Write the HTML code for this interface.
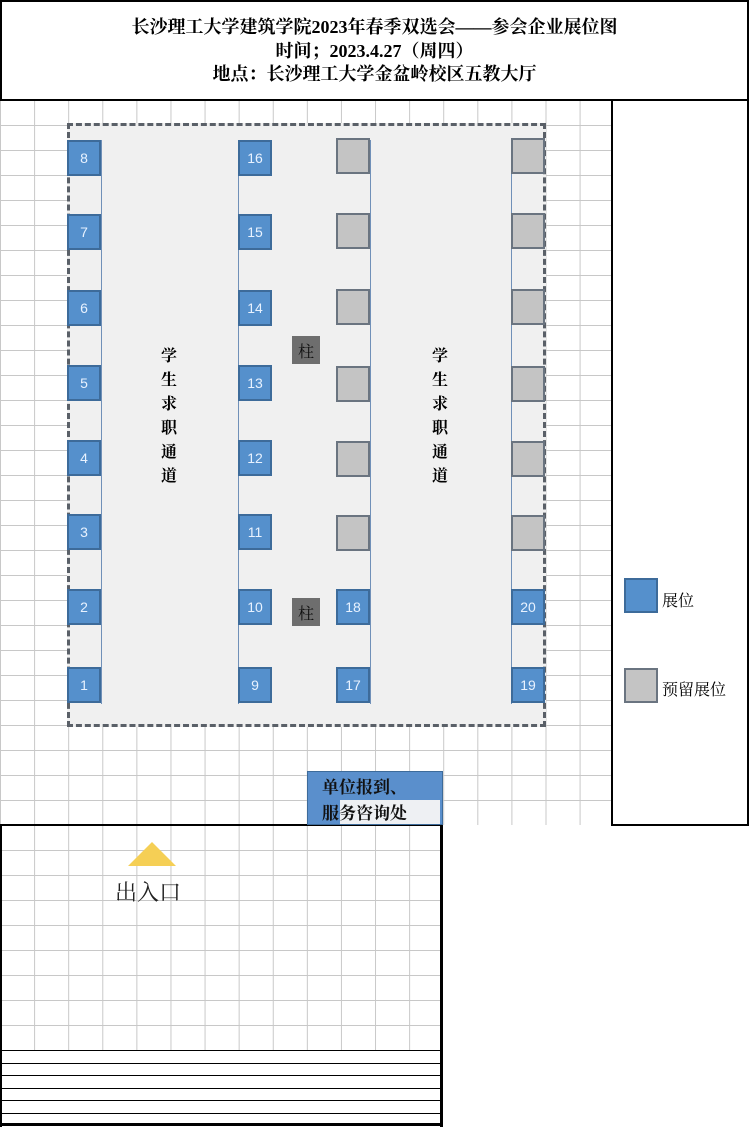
<!DOCTYPE html>
<html><head><meta charset="utf-8"><style>
body{margin:0;width:750px;height:1127px;position:relative;overflow:hidden;background:#fff;font-family:"Liberation Serif","Noto Serif CJK SC",serif}
.a{position:absolute;box-sizing:border-box}
.grid{background-image:linear-gradient(to right,#c8c8c8 1px,transparent 1px),linear-gradient(to bottom,#c8c8c8 1px,transparent 1px);background-size:34.1px 25px;background-position:0 0}
.b{position:absolute;box-sizing:border-box;width:34px;height:36px;background:#5590cc;border:2px solid #3d6b9a;color:#e8f2ff;font-family:"Liberation Sans",sans-serif;font-size:14px;display:flex;align-items:center;justify-content:center}
.g{position:absolute;box-sizing:border-box;width:34px;height:36px;background:#c4c4c4;border:2px solid #6a7480}
.p{position:absolute;width:28px;height:28px;background:#6e6e6e;color:#111;font-size:16px;display:flex;align-items:center;justify-content:center}
.v{position:absolute;width:1px;background:#7090b8}
.t{position:absolute;font-size:16px;font-weight:bold;line-height:24px;width:20px;text-align:center;font-family:"Noto Serif CJK SC",serif}
</style></head><body>
<div class="a grid" style="left:0;top:100px;width:611px;height:725px;background-position:0 0"></div>
<div class="a grid" style="left:0;top:825px;width:442px;height:225px"></div>
<div class="a" style="left:0;top:0;width:749px;height:101px;border:2px solid #000;text-align:center;font-weight:bold;font-size:18px;line-height:23.5px;padding-top:14px;font-family:'Liberation Serif','Noto Serif CJK SC',serif">长沙理工大学建筑学院2023年春季双选会——参会企业展位图<br>时间；2023.4.27（周四）<br>地点：长沙理工大学金盆岭校区五教大厅</div>
<div class="a" style="left:611px;top:99px;width:138px;height:727px;border:2px solid #000;background:#fff"></div>
<div class="a" style="left:0;top:824px;width:443px;height:2px;background:#000"></div>
<div class="a" style="left:0;top:824px;width:2px;height:303px;background:#000"></div>
<div class="a" style="left:440px;top:824px;width:3px;height:303px;background:#000"></div>
<div class="a" style="left:0;top:1123px;width:443px;height:3px;background:#000"></div>
<div class="a" style="left:0;top:1050px;width:442px;height:1px;background:#000"></div>
<div class="a" style="left:0;top:1063px;width:442px;height:1px;background:#000"></div>
<div class="a" style="left:0;top:1075px;width:442px;height:1px;background:#000"></div>
<div class="a" style="left:0;top:1088px;width:442px;height:1px;background:#000"></div>
<div class="a" style="left:0;top:1100px;width:442px;height:1px;background:#000"></div>
<div class="a" style="left:0;top:1113px;width:442px;height:1px;background:#000"></div>
<div class="a" style="left:67px;top:123px;width:479px;height:604px;background:#f0f0f0;border:3px dashed #5a6068"></div>
<div class="v" style="left:101px;top:140px;height:564px"></div>
<div class="v" style="left:238px;top:140px;height:564px"></div>
<div class="v" style="left:370px;top:140px;height:564px"></div>
<div class="v" style="left:511px;top:140px;height:564px"></div>
<div class="b" style="left:67px;top:140px">8</div><div class="b" style="left:67px;top:214px">7</div><div class="b" style="left:67px;top:290px">6</div><div class="b" style="left:67px;top:365px">5</div><div class="b" style="left:67px;top:440px">4</div><div class="b" style="left:67px;top:514px">3</div><div class="b" style="left:67px;top:589px">2</div><div class="b" style="left:67px;top:667px">1</div>
<div class="b" style="left:238px;top:140px">16</div><div class="b" style="left:238px;top:214px">15</div><div class="b" style="left:238px;top:290px">14</div><div class="b" style="left:238px;top:365px">13</div><div class="b" style="left:238px;top:440px">12</div><div class="b" style="left:238px;top:514px">11</div><div class="b" style="left:238px;top:589px">10</div><div class="b" style="left:238px;top:667px">9</div>
<div class="g" style="left:336px;top:138px"></div><div class="g" style="left:336px;top:213px"></div><div class="g" style="left:336px;top:289px"></div><div class="g" style="left:336px;top:366px"></div><div class="g" style="left:336px;top:441px"></div><div class="g" style="left:336px;top:515px"></div>
<div class="b" style="left:336px;top:589px">18</div><div class="b" style="left:336px;top:667px">17</div>
<div class="g" style="left:511px;top:138px"></div><div class="g" style="left:511px;top:213px"></div><div class="g" style="left:511px;top:289px"></div><div class="g" style="left:511px;top:366px"></div><div class="g" style="left:511px;top:441px"></div><div class="g" style="left:511px;top:515px"></div>
<div class="b" style="left:511px;top:589px">20</div><div class="b" style="left:511px;top:667px">19</div>
<div class="p" style="left:292px;top:336px">柱</div>
<div class="p" style="left:292px;top:598px">柱</div>
<div class="t" style="left:159px;top:343px">学<br>生<br>求<br>职<br>通<br>道</div>
<div class="t" style="left:430px;top:343px">学<br>生<br>求<br>职<br>通<br>道</div>
<div class="b" style="left:624px;top:578px;width:34px;height:35px"></div>
<div class="a" style="left:662px;top:588px;font-size:16px">展位</div>
<div class="g" style="left:624px;top:668px;width:34px;height:35px"></div>
<div class="a" style="left:662px;top:677px;font-size:16px">预留展位</div>
<div class="a" style="left:307px;top:771px;width:136px;height:54px;background:#5a8fcc;border:1px solid #3d6b9a"></div>
<div class="a" style="left:340px;top:800px;width:100px;height:24px;background:#eef0f3"></div>
<div class="a" style="left:322px;top:773px;font-size:17px;font-weight:bold;line-height:26px;color:#111;font-family:'Noto Serif CJK SC',serif">单位报到、<br>服务咨询处</div>
<div class="a" style="left:128px;top:842px;width:0;height:0;border-left:24px solid transparent;border-right:24px solid transparent;border-bottom:24px solid #f5cf55"></div>
<div class="a" style="left:115px;top:876px;font-size:22px;color:#222">出入口</div>
</body></html>
